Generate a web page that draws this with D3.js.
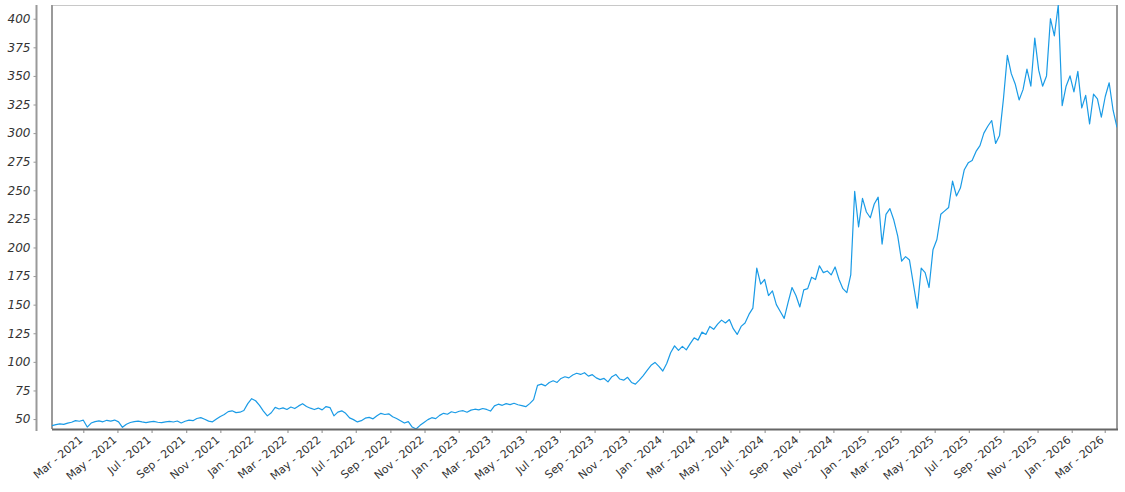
<!DOCTYPE html>
<html>
<head>
<meta charset="utf-8">
<script src="https://cdn.jsdelivr.net/npm/d3@7"></script>
<style>
  html, body { margin: 0; padding: 0; background: #fff; }
  svg { display: block; }
</style>
</head>
<body>
<svg id="chart" width="1125" height="492"></svg>
<script>
// ---- data (weekly samples) ----
const startDate = "2021-01-04";
const stepDays = 7;
const prices = [
  44.2, 45.1, 45.8, 45.3, 46.4, 47.2, 48.6, 48.1, 49.0, 43.0,
  46.5, 47.8, 48.4, 47.6, 48.9, 48.2, 49.1, 47.5, 42.8, 45.5,
  47.0, 47.8, 48.2, 47.5, 46.9, 47.6, 48.0, 47.2, 46.8, 47.5,
  48.0, 47.4, 48.3, 46.6, 48.1, 49.0, 48.6, 50.5, 51.2, 49.8,
  48.2, 47.6, 50.0, 52.3, 54.0, 56.5, 57.2, 55.6, 56.0, 57.5,
  63.5, 67.8, 66.0, 62.0, 57.0, 52.8, 55.5, 60.2, 58.8, 59.8,
  58.4, 60.5, 59.2, 61.5, 63.4, 61.0, 59.5, 58.3, 59.6, 58.0,
  60.9, 60.0, 52.8, 56.0, 57.2, 55.0, 51.0, 49.5, 47.5, 48.6,
  50.8, 51.5, 50.2, 52.8, 55.0, 54.0, 54.6, 52.0, 50.5, 48.6,
  46.5, 47.8, 43.0, 41.3, 44.5, 47.0, 49.5, 51.2, 50.4, 53.2,
  55.0, 54.2, 56.4, 55.5, 56.8, 57.3, 56.0, 57.8, 58.6, 58.0,
  59.2, 58.4, 57.0, 61.5, 63.0, 62.0, 63.5, 62.6, 63.8, 62.5,
  61.8, 60.8, 63.5, 67.0, 79.5, 80.5, 79.0, 82.0, 83.5, 82.0,
  85.5, 87.0, 86.0, 88.5, 90.0, 89.0, 90.5, 87.5, 88.8, 86.0,
  84.5, 85.5, 82.5, 87.0, 89.0, 85.0, 84.0, 86.5, 82.0, 80.5,
  84.0, 88.0, 92.5, 97.0, 99.5, 96.0, 92.0, 98.5, 108.0, 114.0,
  110.0, 113.5, 110.5, 116.0, 121.0, 119.0, 126.0, 124.0, 131.0, 128.5,
  133.0, 136.5, 134.0, 137.0, 129.0, 124.0, 131.0, 134.0, 141.5, 147.0,
  182.0, 168.0, 172.0, 158.0, 162.0, 150.0, 144.0, 138.0, 152.0, 165.0,
  158.0, 148.0, 163.0, 164.0, 174.0, 172.0, 184.0, 178.0, 179.5, 176.0,
  183.0, 172.0, 164.0, 160.5, 176.0, 249.0, 218.0, 243.0, 231.0, 226.0,
  238.0, 244.0, 203.0, 229.0, 234.0, 224.0, 210.0, 188.0, 192.0, 189.0,
  168.0, 147.0, 182.0, 178.0, 165.0, 198.0, 207.0, 229.0, 232.0, 235.0,
  258.0, 245.0, 252.0, 268.0, 274.0, 276.0, 284.0, 289.0, 300.0, 306.0,
  311.0, 291.0, 298.0, 330.0, 368.0, 352.0, 343.0, 329.0, 338.0, 356.0,
  341.0, 383.0, 355.0, 341.0, 350.0, 400.0, 385.0, 412.0, 324.0, 341.0,
  350.0, 336.0, 354.0, 322.0, 333.0, 308.0, 334.0, 330.0, 314.0, 332.0,
  344.0, 320.0, 305.0
];
const yTickValues = [50, 75, 100, 125, 150, 175, 200, 225, 250, 275, 300, 325, 350, 375, 400];
const xTickMonths = [
  "2021-03", "2021-05", "2021-07", "2021-09", "2021-11",
  "2022-01", "2022-03", "2022-05", "2022-07", "2022-09", "2022-11",
  "2023-01", "2023-03", "2023-05", "2023-07", "2023-09", "2023-11",
  "2024-01", "2024-03", "2024-05", "2024-07", "2024-09", "2024-11",
  "2025-01", "2025-03", "2025-05", "2025-07", "2025-09", "2025-11",
  "2026-01", "2026-03"
];

// ---- layout ----
const plot = { left: 52, right: 1117, top: 5, bottom: 429 };
const axisX = 36.5;

const parseDay = d3.utcParse("%Y-%m-%d");
const parseMonth = d3.utcParse("%Y-%m");
const fmt = d3.utcFormat("%b - %Y");
const start = parseDay(startDate);
const data = prices.map((v, i) => ({ date: d3.utcDay.offset(start, i * stepDays), value: v }));

const x = d3.scaleUtc()
  .domain(d3.extent(data, d => d.date))
  .range([plot.left, plot.right]);
const y = d3.scaleLinear()
  .domain(d3.extent(data, d => d.value))
  .range([plot.bottom, plot.top]);

const svg = d3.select("#chart");

svg.append("clipPath").attr("id", "clip")
  .append("rect")
  .attr("x", plot.left).attr("y", plot.top)
  .attr("width", plot.right - plot.left).attr("height", plot.bottom - plot.top);

// frame
svg.append("line").attr("x1", plot.left).attr("x2", plot.right).attr("y1", plot.top + 0.5).attr("y2", plot.top + 0.5)
  .attr("stroke", "#c8c8c8").attr("stroke-width", 1);
svg.append("line").attr("x1", plot.left).attr("x2", plot.left).attr("y1", plot.top).attr("y2", plot.bottom)
  .attr("stroke", "#9a9a9a").attr("stroke-width", 2);
svg.append("line").attr("x1", plot.right).attr("x2", plot.right).attr("y1", plot.top).attr("y2", plot.bottom + 1)
  .attr("stroke", "#9a9a9a").attr("stroke-width", 2);

// line
svg.append("path")
  .datum(data)
  .attr("clip-path", "url(#clip)")
  .attr("fill", "none")
  .attr("stroke", "#1a9be6")
  .attr("stroke-width", 1.2)
  .attr("stroke-linejoin", "round")
  .attr("d", d3.line().x(d => x(d.date)).y(d => y(d.value)));

// bottom frame line (x axis)
const xAxis = d3.axisBottom(x)
  .tickValues(xTickMonths.map(parseMonth))
  .tickSize(4)
  .tickFormat(fmt);
const gx = svg.append("g").attr("transform", `translate(0,${plot.bottom})`).call(xAxis);
gx.select(".domain").attr("stroke", "#666").attr("stroke-width", 2)
  .attr("d", `M${plot.left},0.5H${plot.right + 1}`);
gx.selectAll(".tick line").attr("stroke", "#888").attr("y1", 1).attr("y2", 4);
gx.selectAll(".tick text")
  .attr("font-family", "DejaVu Sans, Verdana, sans-serif")
  .attr("font-size", 11)
  .attr("fill", "#333")
  .attr("text-anchor", "end")
  .attr("y", 0).attr("dy", "0.35em")
  .attr("transform", "translate(-3,9) rotate(-40)");

// y axis (separate line on the left)
const yAxis = d3.axisLeft(y)
  .tickValues(yTickValues)
  .tickSize(3)
  .tickPadding(3);
const gy = svg.append("g").attr("transform", `translate(${axisX},0)`).call(yAxis);
gy.select(".domain").attr("stroke", "#9a9a9a").attr("stroke-width", 2)
  .attr("d", `M0,${plot.top}V${plot.bottom + 2}`);
gy.selectAll(".tick line").attr("stroke", "#999");
gy.selectAll(".tick text")
  .attr("font-family", "DejaVu Sans, Verdana, sans-serif")
  .attr("font-style", "italic")
  .attr("font-size", 12)
  .attr("fill", "#333");
</script>
</body>
</html>
